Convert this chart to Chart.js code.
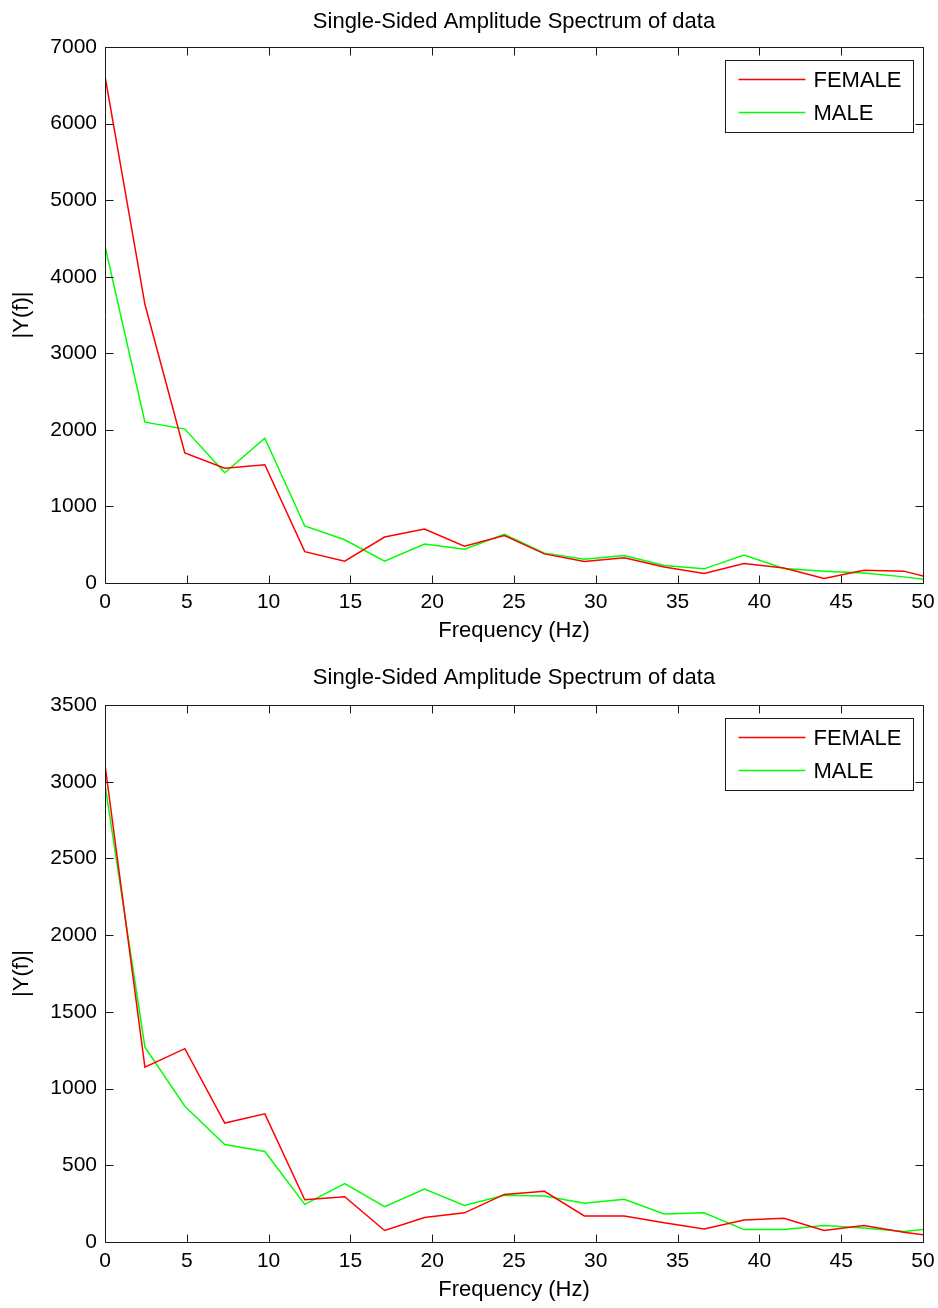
<!DOCTYPE html>
<html>
<head>
<meta charset="utf-8">
<script src="https://cdn.jsdelivr.net/npm/chart.js@4.4.1/dist/chart.umd.min.js"></script>
<style>
  body { margin: 0; background: #fff; }
  .panel { position: absolute; left: 0; }
</style>
</head>
<body>
<div class="panel" style="top:0"><canvas id="spec1" width="938" height="656"></canvas></div>
<div class="panel" style="top:656px"><canvas id="spec2" width="938" height="652"></canvas></div>
<script>
/*
SPECTRUM DATA
*/
// frequency bins (Hz), last bin sits past the 50 Hz limit
const freqs = [0, 2.44, 4.88, 7.32, 9.77, 12.21, 14.65, 17.09, 19.53, 21.97, 24.41,
  26.86, 29.30, 31.74, 34.18, 36.62, 39.06, 41.50, 43.95, 46.39, 48.83, 51.27];

// first recording
const femaleA = [6620, 3640, 1700, 1500, 1545, 410, 285, 600, 705, 480, 620,
  380, 280, 330, 210, 125, 255, 195, 60, 165, 155, 25];
const maleA = [4400, 2100, 2010, 1440, 1890, 745, 565, 285, 510, 440, 635,
  390, 310, 360, 230, 185, 365, 190, 155, 130, 80, 15];

// second recording
const femaleB = [3110, 1140, 1260, 775, 835, 275, 295, 75, 160, 190, 310,
  330, 170, 170, 125, 85, 143, 155, 75, 107, 64, 30];
const maleB = [2980, 1270, 885, 635, 590, 245, 380, 230, 345, 238, 305,
  300, 252, 279, 182, 191, 81, 81, 107, 92, 68, 95];

// axis ticks
const xTicks = [0, 5, 10, 15, 20, 25, 30, 35, 40, 45, 50];
const yTicksA = [0, 1000, 2000, 3000, 4000, 5000, 6000, 7000];
const yTicksB = [0, 500, 1000, 1500, 2000, 2500, 3000, 3500];

const seriesNames = ['FEMALE', 'MALE'];
const seriesColors = ['#ff0000', '#00ff00'];

const FONT = 'Liberation Sans, Arial, sans-serif';
const INK = '#1a1a1a';

function toPoints(values) {
  return values.map((v, i) => ({x: freqs[i], y: v}));
}

//box around the axes with the ticks pointing inwards on all four sides
const frameTicks = {
  id: 'frameTicks',
  afterDatasetsDraw(chart) {
    const ctx = chart.ctx;
    const a = chart.chartArea;
    const x = chart.scales.x;
    const y = chart.scales.y;
    const L = Math.round(a.left) + 0.5, R = Math.round(a.right) + 0.5;
    const T = Math.round(a.top) + 0.5, B = Math.round(a.bottom) + 0.5;
    const len = 8;
    ctx.save();
    ctx.strokeStyle = INK;
    ctx.lineWidth = 1;
    ctx.beginPath();
    ctx.rect(L, T, R - L, B - T);
    x.ticks.forEach(t => {
      const px = Math.round(x.getPixelForValue(t.value)) + 0.5;
      ctx.moveTo(px, B); ctx.lineTo(px, B - len);
      ctx.moveTo(px, T); ctx.lineTo(px, T + len);
    });
    y.ticks.forEach(t => {
      const py = Math.round(y.getPixelForValue(t.value)) + 0.5;
      ctx.moveTo(L, py); ctx.lineTo(L + len, py);
      ctx.moveTo(R, py); ctx.lineTo(R - len, py);
    });
    ctx.stroke();
    ctx.restore();
  }
};

//boxed legend in the upper right corner of the axes
const boxLegend = {
  id: 'boxLegend',
  afterDatasetsDraw(chart) {
    const ctx = chart.ctx;
    const a = chart.chartArea;
    const w = 188, h = 72;
    const left = Math.round(a.right) - 10 - w + 0.5;
    const top = Math.round(a.top) + 13 + 0.5;
    ctx.save();
    ctx.fillStyle = '#fff';
    ctx.fillRect(left, top, w, h);
    ctx.strokeStyle = INK;
    ctx.lineWidth = 1;
    ctx.strokeRect(left, top, w, h);
    ctx.font = '22px ' + FONT;
    ctx.textBaseline = 'middle';
    chart.data.datasets.forEach((ds, i) => {
      const rowY = top + 19 + i * 33;
      ctx.strokeStyle = ds.borderColor;
      ctx.lineWidth = 1.5;
      ctx.beginPath();
      ctx.moveTo(left + 13, rowY);
      ctx.lineTo(left + 80, rowY);
      ctx.stroke();
      ctx.fillStyle = '#000';
      ctx.fillText(ds.label, left + 88, rowY + 1);
    });
    ctx.restore();
  }
};

function makeSpectrum(canvas, female, male, yTicks, titleGap, xBlock) {
  return new Chart(canvas, {
    type: 'line',
    data: {
      datasets: [female, male].map((vals, i) => ({
        label: seriesNames[i],
        data: toPoints(vals),
        borderColor: seriesColors[i],
        borderWidth: 1.5,
        pointRadius: 0,
        tension: 0,
        fill: false
      }))
    },
    options: {
      responsive: false,
      animation: false,
      events: [],
      layout: {padding: {left: 0, right: 15, top: 0, bottom: 0}},
      plugins: {
        legend: {display: false},
        tooltip: {enabled: false},
        title: {
          display: true,
          fullSize: false,
          text: 'Single-Sided Amplitude Spectrum of data',
          color: '#000',
          font: {family: FONT, size: 22, weight: 'normal'},
          padding: {top: 9, bottom: titleGap}
        }
      },
      scales: {
        x: {
          type: 'linear',
          min: 0,
          max: 50,
          afterBuildTicks: s => { s.ticks = xTicks.map(v => ({value: v})); },
          afterFit: s => { s.height = xBlock; s.paddingLeft = 0; s.paddingRight = 0; },
          grid: {display: false, drawTicks: false},
          border: {display: false},
          ticks: {color: '#000', padding: 7, font: {family: FONT, size: 21}, callback: v => String(v)},
          title: {
            display: true,
            text: 'Frequency (Hz)',
            color: '#000',
            font: {family: FONT, size: 22},
            padding: {top: 0, bottom: xBlock - 61}
          }
        },
        y: {
          min: 0,
          max: yTicks[yTicks.length - 1],
          afterBuildTicks: s => { s.ticks = yTicks.map(v => ({value: v})); },
          afterFit: s => { s.width = 105; s.paddingTop = 0; s.paddingBottom = 0; },
          grid: {display: false, drawTicks: false},
          border: {display: false},
          ticks: {color: '#000', padding: 8, font: {family: FONT, size: 21}, callback: v => String(v)},
          title: {
            display: true,
            text: '|Y(f)|',
            color: '#000',
            font: {family: FONT, size: 22},
            padding: {top: 9, bottom: 0}
          }
        }
      }
    },
    plugins: [frameTicks, boxLegend]
  });
}

let specA = makeSpectrum(document.getElementById('spec1'), femaleA, maleA, yTicksA, 11.6, 73);
let specB = makeSpectrum(document.getElementById('spec2'), femaleB, maleB, yTicksB, 13.6, 66);
</script>
</body>
</html>
